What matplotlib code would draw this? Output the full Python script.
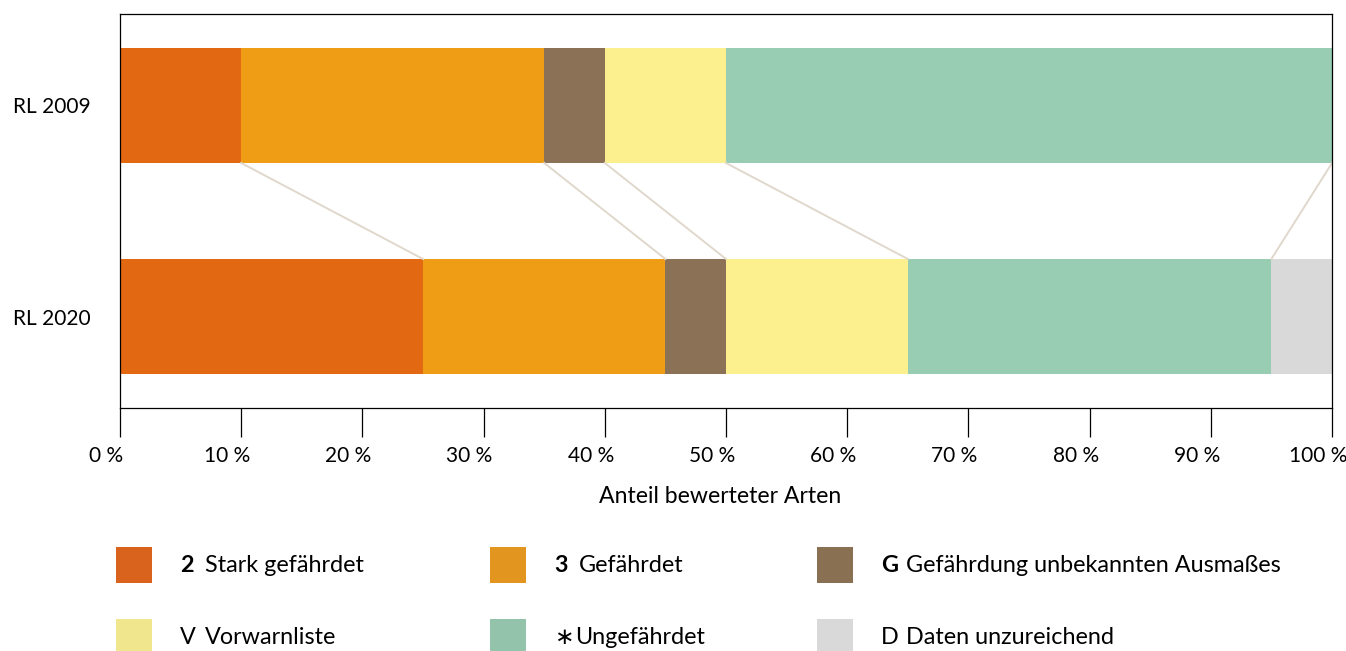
import matplotlib
matplotlib.use('Agg')
import matplotlib.pyplot as plt
import matplotlib.transforms as mtransforms
from matplotlib.patches import Rectangle
import numpy as np

plt.rcParams['font.family'] = ['Lato', 'DejaVu Sans']

# Anteile in Prozent
lists = ['RL 2009', 'RL 2020']
stark_gefaehrdet = [10, 25]
gefaehrdet = [25, 20]
gef_unbekannt = [5, 5]
vorwarnliste = [10, 15]
ungefaehrdet = [50, 30]
daten_unzureichend = [0, 5]
xticks = [0, 10, 20, 30, 40, 50, 60, 70, 80, 90, 100]

keys = ['2', '3', 'G', 'V', '\u2217', 'D']
key_bold = [True, True, True, False, False, False]
names = ['Stark gefährdet', 'Gefährdet', 'Gefährdung unbekannten Ausmaßes',
         'Vorwarnliste', 'Ungefährdet', 'Daten unzureichend']
bar_colors = ['#e36812', '#ef9d14', '#8b7257', '#fbef8e', '#98cdb3', '#d9d9d9']
leg_colors = ['#d9621c', '#e3961f', '#8a7052', '#f0e68e', '#93c3aa', '#d9d9d9']

series = [stark_gefaehrdet, gefaehrdet, gef_unbekannt, vorwarnliste,
          ungefaehrdet, daten_unzureichend]

W, H = 1346, 651
fig = plt.figure(figsize=(W / 100, H / 100), dpi=100)
ax = fig.add_axes([120 / W, 1 - 408 / H, (1332 - 120) / W, (408 - 14) / H])

ypos = np.arange(len(lists))
bar_h = 0.545
left = np.zeros(len(lists))
bounds = []
for vals, col in zip(series, bar_colors):
    vals = np.array(vals, dtype=float)
    ax.barh(ypos, vals, left=left, height=bar_h, color=col, linewidth=0)
    left = left + vals
    bounds.append(left.copy())

# Verbindungslinien zwischen den Balken
for b in bounds[:-1]:
    ax.plot([b[0], b[1]], [ypos[0] + bar_h / 2, ypos[1] - bar_h / 2],
            color='#e0d8cc', lw=1.4, zorder=1, clip_on=False)

ax.set_xlim(0, 100)
ax.set_ylim(1.4336, -0.4336)
ax.set_yticks(ypos)
ax.set_yticklabels(lists, fontsize=15)
ax.set_xticks(xticks)
ax.set_xticklabels(['{} %'.format(t) for t in xticks], fontsize=15)
ax.tick_params(axis='x', direction='out', length=21, width=0.9, pad=6, color='black')
ax.tick_params(axis='y', length=0, pad=21)
shift = mtransforms.ScaledTranslation(-14 / 100, 0, fig.dpi_scale_trans)
for lab in ax.get_xticklabels():
    lab.set_transform(lab.get_transform() + shift)
for s in ax.spines.values():
    s.set_linewidth(0.9)
ax.set_xlabel('Anteil bewerteter Arten', fontsize=16.6, labelpad=10)
ax.xaxis.set_label_coords(0.495, -0.198)

# Legende
col_x = [116, 490, 817]
row_y = [565, 637]
for i in range(6):
    r, c = divmod(i, 3)
    px, py = col_x[c], row_y[r]
    fig.patches.append(Rectangle((px / W, 1 - (py + 18) / H), 36 / W, 36 / H,
                                 transform=fig.transFigure, color=leg_colors[i],
                                 linewidth=0))
    fig.text((px + 64) / W, 1 - py / H, keys[i], fontsize=16.8, va='center',
             ha='left', fontweight='bold' if key_bold[i] else 'normal')
    off = 89 if keys[i] != '\u2217' else 85
    fig.text((px + off) / W, 1 - py / H, names[i], fontsize=16.8, va='center',
             ha='left')

fig.savefig('out.png', dpi=100)
